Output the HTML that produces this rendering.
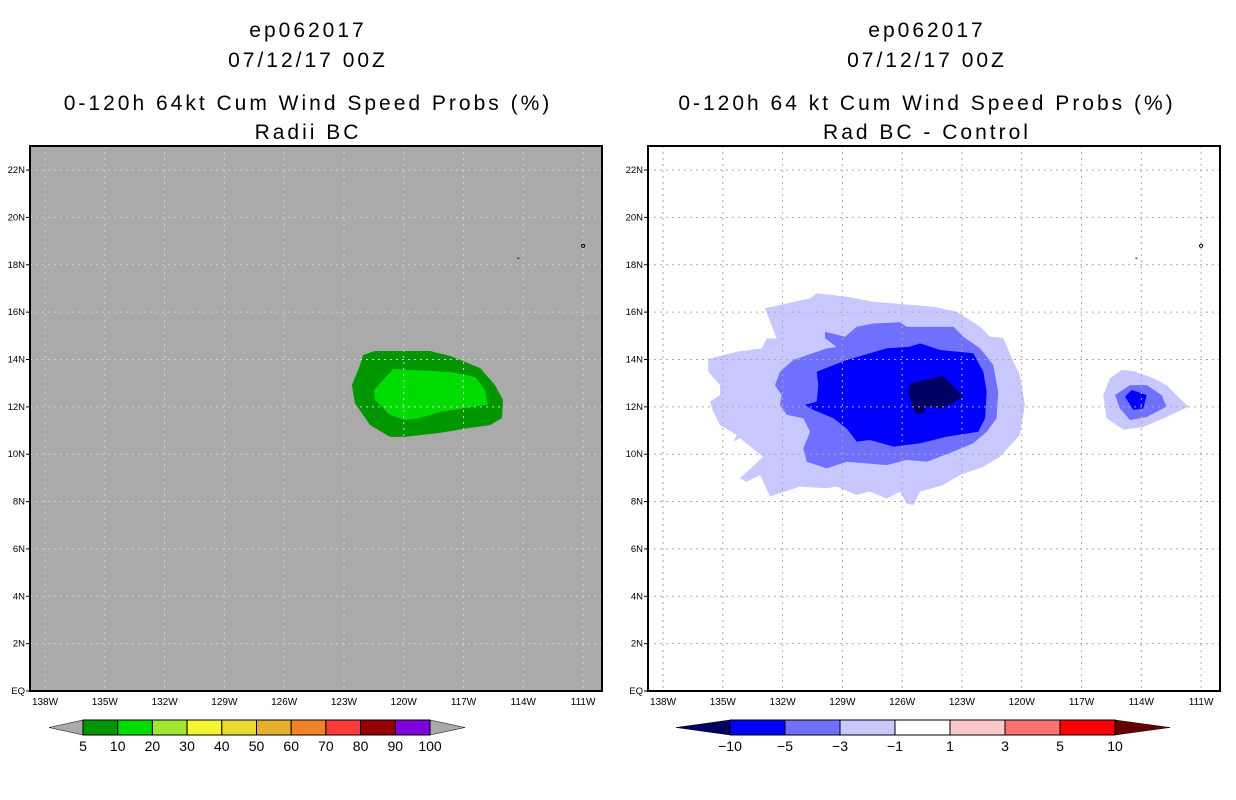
<!DOCTYPE html>
<html><head><meta charset="utf-8">
<style>
html,body{margin:0;padding:0;background:#fff;}
svg{display:block;font-family:"Liberation Sans",sans-serif;}
</style></head>
<body>
<svg id="chart" width="1236" height="800" viewBox="0 0 1236 800">
<g font-size="21" text-anchor="middle" fill="#000" letter-spacing="3">
<text x="308" y="37">ep062017</text>
<text x="308" y="67">07/12/17 00Z</text>
<text x="308" y="110">0-120h 64kt Cum Wind Speed Probs (%)</text>
<text x="308" y="139">Radii BC</text>
</g>
<g font-size="21" text-anchor="middle" fill="#000" letter-spacing="3">
<text x="927" y="37">ep062017</text>
<text x="927" y="67">07/12/17 00Z</text>
<text x="927" y="110">0-120h 64 kt Cum Wind Speed Probs (%)</text>
<text x="927" y="139">Rad BC - Control</text>
</g>
<g id="left"></g>
<g id="right"></g>
<g id="cbL"></g>
<g id="cbR"></g>
</svg>
<script>
const lonTicks=[138,135,132,129,126,123,120,117,114,111];
const latTicks=[0,2,4,6,8,10,12,14,16,18,20,22];
const latLabels=["EQ","2N","4N","6N","8N","10N","12N","14N","16N","18N","20N","22N"];
const probLevels=["5","10","20","30","40","50","60","70","80","90","100"];
const probColors=["#009600","#00dc00","#a0e632","#f5f532","#e6dc32","#e6af2d","#f08228","#fa3c3c","#960000","#8200dc"];
const diffLevels=["-10","-5","-3","-1","1","3","5","10"];
const diffColors=["#0000ff","#7070ff","#c8c8ff","#ffffff","#ffc8c8","#ff7070","#ff0000"];
// contour polygons, [lonW, latN]
const leftOuter=[[122.04,14.19],[121.44,14.36],[118.68,14.36],[117.68,14.15],[116.17,13.64],[115.42,12.92],[115.02,12.29],[115.07,11.53],[115.67,11.23],[116.68,11.11],[118.18,10.90],[119.94,10.73],[120.69,10.73],[121.69,11.23],[122.45,12.16],[122.60,12.92],[122.19,13.77]];
const leftInner=[[120.54,13.60],[117.68,13.47],[116.42,13.26],[115.92,12.71],[115.77,12.08],[116.68,11.99],[118.18,11.78],[119.18,11.53],[119.94,11.44],[120.69,11.66],[121.44,12.29],[121.49,12.71],[120.94,13.22]];
const rightLight=[[135.73,14.02],[134.30,14.33],[133.05,14.47],[132.80,14.89],[132.30,14.89],[132.88,16.16],[131.79,16.37],[130.62,16.58],[130.29,16.79],[129.45,16.72],[128.78,16.65],[127.45,16.44],[124.44,16.23],[123.26,16.02],[122.09,15.38],[121.59,14.96],[120.92,14.91],[120.50,14.05],[120.09,13.34],[119.84,12.08],[120.09,10.81],[121.09,9.89],[121.93,9.47],[123.10,9.12],[123.94,8.70],[125.10,8.42],[125.44,7.85],[125.77,7.92],[126.11,8.42],[126.78,8.13],[127.61,8.42],[128.28,8.28],[129.29,8.63],[129.79,8.56],[131.13,8.63],[132.63,8.21],[133.13,9.12],[133.80,8.84],[134.14,8.98],[132.97,9.89],[134.14,10.67],[134.47,10.53],[134.30,10.81],[135.14,11.23],[135.48,11.80],[135.64,12.22],[135.14,12.50],[135.14,12.92],[135.73,13.48]];
const rightMed=[[129.87,15.17],[128.87,14.96],[128.28,15.38],[127.45,15.52],[126.11,15.57],[125.77,15.38],[123.43,15.38],[122.93,14.96],[122.09,14.47],[121.43,13.77],[121.18,12.64],[121.26,11.52],[121.76,10.95],[122.43,10.46],[123.43,10.11],[124.77,9.68],[125.77,9.76],[126.78,9.54],[128.78,9.68],[129.79,9.40],[130.79,9.68],[130.96,10.25],[130.62,10.95],[130.96,11.52],[131.79,11.66],[132.13,12.08],[132.05,12.50],[132.38,12.92],[132.13,13.48],[131.46,13.98],[129.79,14.47],[129.29,14.53],[129.87,14.89]];
const rightDark=[[130.29,13.48],[128.78,13.98],[126.78,14.47],[125.61,14.54],[125.10,14.68],[124.10,14.40],[122.43,14.26],[121.93,13.48],[121.76,12.64],[121.84,11.52],[122.18,10.95],[123.77,10.74],[125.10,10.46],[126.44,10.32],[127.61,10.60],[128.28,10.53],[128.78,11.08],[129.45,11.52],[130.46,11.87],[130.88,12.08],[130.29,12.22],[130.21,12.92]];
const rightNavy=[[125.61,12.99],[123.94,13.31],[122.93,12.42],[123.94,11.93],[124.77,12.00],[124.94,11.72],[125.36,11.72],[125.69,12.57]];
const smallLight=[[115.91,12.50],[115.57,13.20],[114.99,13.56],[114.40,13.51],[113.56,13.27],[112.73,12.92],[111.64,12.00],[112.73,11.57],[113.90,11.15],[114.90,11.04],[115.74,11.52]];
const smallMed=[[115.32,12.50],[114.57,12.92],[113.73,12.92],[112.98,12.50],[112.73,12.00],[113.73,11.57],[114.57,11.44],[115.07,11.93]];
const smallDark=[[114.82,12.43],[114.49,12.71],[113.73,12.50],[113.90,11.93],[114.40,11.87]];

const NS="http://www.w3.org/2000/svg";
function mk(tag,attrs,parent){const e=document.createElementNS(NS,tag);for(const k in attrs)e.setAttribute(k,attrs[k]);parent.appendChild(e);return e;}
const X0=30,X1=602,Y0=146,Y1=691;
function panel(g,off,bg,gridCol,polys){
  const xs=lon=>off+45+(138-lon)*19.93;
  const ys=lat=>691-lat*23.68;
  const bgr=mk('rect',{x:off+X0,y:Y0,width:X1-X0,height:Y1-Y0,fill:bg},g);
  
  
  polys.forEach(p=>{
    const pl=mk('polygon',{points:p.pts.map(q=>xs(q[0]).toFixed(1)+','+ys(q[1]).toFixed(1)).join(' '),fill:p.c},g);
    
    
  });
  lonTicks.forEach(l=>{
    const x=xs(l);
    const gl=mk('line',{x1:x,y1:Y0,x2:x,y2:Y1,stroke:gridCol,'stroke-width':1,'stroke-dasharray':'2,4'},g);
    
    
    const t=mk('text',{x:x,y:705,'font-size':10,'text-anchor':'middle',fill:'#000'},g);
    t.textContent=l+'W';
    
    
  });
  latTicks.forEach((l,i)=>{
    const y=ys(l);
    if(i>0){const gl=mk('line',{x1:off+X0,y1:y,x2:off+X1,y2:y,stroke:gridCol,'stroke-width':1,'stroke-dasharray':'2,4'},g);
    
    }
    const t=mk('text',{x:off+25,y:y+3,'font-size':9.5,'text-anchor':'end',fill:'#000'},g);
    t.textContent=latLabels[i];
    
    
    mk('line',{x1:off+26,y1:y,x2:off+X0,y2:y,stroke:'#000'},g);
  });
  const c=mk('circle',{cx:xs(111),cy:ys(18.8),r:1.6,fill:'none',stroke:'#000','stroke-width':1},g);
  
  
  const d=mk('rect',{x:xs(114.3),y:ys(18.3),width:2,height:1,fill:'#000'},g);
  
  
  const fr=mk('rect',{x:off+X0,y:Y0,width:X1-X0,height:Y1-Y0,fill:'none',stroke:'#000','stroke-width':2},g);
  
  
}
panel(document.getElementById('left'),0,'#aaaaaa','#d0d0d0',[
 {pts:leftOuter,c:probColors[0],name:'prob-5-10-contour'},
 {pts:leftInner,c:probColors[1],name:'prob-10-20-contour'}]);
panel(document.getElementById('right'),618,'#ffffff','#aaaaaa',[
 {pts:rightLight,c:diffColors[2],name:'diff-minus3-contour'},
 {pts:rightMed,c:diffColors[1],name:'diff-minus5-contour'},
 {pts:rightDark,c:diffColors[0],name:'diff-minus10-contour'},
 {pts:rightNavy,c:'#000064',name:'diff-below-minus10-contour'},
 {pts:smallLight,c:diffColors[2],name:'small-diff-minus3-contour'},
 {pts:smallMed,c:diffColors[1],name:'small-diff-minus5-contour'},
 {pts:smallDark,c:diffColors[0],name:'small-diff-minus10-contour'}]);

function colorbar(g,xa,xb,colors,labels,leftCol,rightCol,ta,tb){
  const y0=720,y1=735,ym=727.5;
  const w=(xb-xa)/colors.length;
  const lt=mk('polygon',{points:`${ta},${ym} ${xa},${y0} ${xa},${y1}`,fill:leftCol,stroke:'#000','stroke-width':0.5},g);
  
  
  const rt=mk('polygon',{points:`${tb},${ym} ${xb},${y0} ${xb},${y1}`,fill:rightCol,stroke:'#000','stroke-width':0.5},g);
  
  
  colors.forEach((c,i)=>{
    const r=mk('rect',{x:xa+i*w,y:y0,width:w,height:y1-y0,fill:c,stroke:'#000','stroke-width':1},g);
    
    
  });
  labels.forEach((l,i)=>{
    const t=mk('text',{x:xa+i*w,y:751,'font-size':14,'text-anchor':'middle',fill:'#000'},g);
    t.textContent=l.replace('-','\u2212');
    
    
  });
}
colorbar(document.getElementById('cbL'),83,430,probColors,probLevels,'#aaaaaa','#aaaaaa',49,465);
colorbar(document.getElementById('cbR'),730,1115,diffColors,diffLevels,'#000064','#640000',676,1170);
</script>
</body></html>
